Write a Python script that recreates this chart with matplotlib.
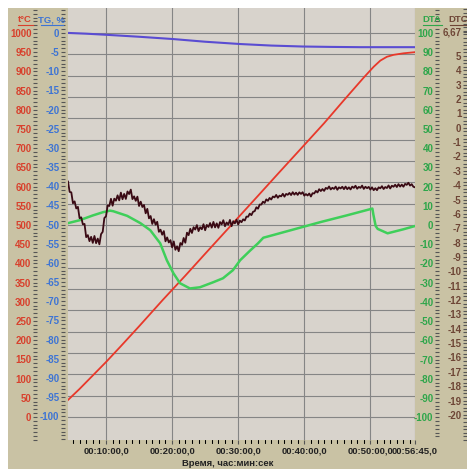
import numpy as np
import matplotlib.pyplot as plt
from matplotlib.ticker import MultipleLocator
from matplotlib.lines import Line2D
from matplotlib.patches import Rectangle

plt.rcParams['font.family'] = ['Liberation Sans', 'DejaVu Sans']

# temperature, deg C
t_min = [4.24, 6.0, 8.0, 10.0, 12.12, 15.0, 18.6, 22.0, 25.0, 29.24, 33.0, 36.0,
         39.4, 43.0, 46.0, 49.0, 50.5, 51.5, 52.5, 53.5, 55.0, 56.75]
t_val = [44, 73, 108, 143, 182, 236, 305, 368, 425, 505, 576, 633,
         697, 765, 825, 884, 912, 928, 938, 943, 947, 950]

# TG, %
tg_min = [4.25, 7.0, 10.15, 15.0, 20.15, 25.0, 30.3, 35.0, 39.8, 44.0, 48.5, 56.75]
tg_val = [0.0, -0.2, -0.5, -1.0, -1.6, -2.3, -2.9, -3.3, -3.55, -3.65, -3.72, -3.72]

# DTA
dta_min = [4.25, 6.0, 8.0, 9.55, 10.6, 11.1, 13.2, 15.2, 16.7, 18.2, 19.2, 20.2, 21.2,
           22.7, 24.2, 26.2, 27.7, 29.2, 30.3, 31.8, 33.0, 33.8, 35.3, 38.9, 42.4,
           46.5, 50.0, 50.3, 50.45, 50.8, 51.1, 52.6, 55.0, 56.75]
dta_val = [1.0, 2.5, 5.0, 6.7, 7.5, 7.2, 4.8, 1.0, -2.7, -9.5, -18.3, -25.1, -30.3,
           -33.0, -32.4, -29.8, -27.7, -23.5, -18.3, -13.3, -9.5, -6.6, -5.2, -1.8, 1.5,
           5.1, 8.3, 8.6, 5.5, -0.5, -2.0, -4.3, -2.2, -0.5]

# DTC, sampled every 0.25 min from 4.25 min
dtc_start, dtc_step = 4.25, 0.25
dtc_val = [
    -3.75, -4.47, -4.50, -5.26, -5.13, -5.62, -5.51, -6.30, -6.24, -6.73, -6.70, -7.62,
    -7.48, -7.90, -7.60, -8.02, -7.54, -8.04, -7.72, -8.12, -7.41, -7.25, -6.29, -6.17,
    -5.41, -5.45, -4.95, -5.43, -4.94, -5.08, -4.71, -5.06, -4.52, -4.98, -4.61, -4.96,
    -4.44, -4.62, -4.31, -4.97, -4.78, -5.09, -4.80, -5.45, -5.15, -5.52, -5.38, -5.96,
    -5.65, -6.31, -6.15, -6.70, -6.37, -6.75, -6.55, -7.25, -7.10, -7.45, -7.20, -7.91,
    -7.64, -7.99, -7.83, -8.33, -7.92, -8.50, -8.26, -8.60, -8.03, -8.16, -7.68, -8.01,
    -7.31, -7.48, -7.04, -7.33, -6.93, -7.09, -6.78, -7.20, -6.93, -7.07, -6.72, -7.14,
    -6.77, -6.91, -6.64, -6.96, -6.56, -6.94, -6.66, -6.97, -6.57, -6.73, -6.44, -6.86,
    -6.60, -6.75, -6.42, -6.86, -6.51, -6.66, -6.41, -6.74, -6.47, -6.58, -6.38, -6.46,
    -6.19, -6.20, -5.98, -6.09, -5.85, -5.81, -5.54, -5.64, -5.35, -5.35, -5.15, -5.24,
    -4.99, -5.09, -4.89, -5.00, -4.79, -4.85, -4.68, -4.88, -4.73, -4.78, -4.60, -4.80,
    -4.61, -4.67, -4.54, -4.69, -4.49, -4.66, -4.52, -4.68, -4.50, -4.61, -4.49, -4.73,
    -4.62, -4.72, -4.58, -4.79, -4.56, -4.58, -4.40, -4.51, -4.28, -4.41, -4.27, -4.40,
    -4.19, -4.26, -4.09, -4.30, -4.18, -4.26, -4.10, -4.32, -4.15, -4.23, -4.11, -4.28,
    -4.10, -4.28, -4.15, -4.30, -4.10, -4.19, -4.04, -4.25, -4.12, -4.19, -4.03, -4.26,
    -4.11, -4.21, -4.12, -4.31, -4.15, -4.35, -4.21, -4.35, -4.15, -4.22, -4.07, -4.27,
    -4.13, -4.20, -4.02, -4.23, -4.04, -4.11, -3.97, -4.13, -3.93, -4.10, -3.96, -4.11,
    -3.91, -3.98, -3.83, -4.03, -3.93, -4.11, -4.15]

x_ticks = [10, 20, 30, 40, 50, 56.75]
x_labels = ['00:10:00,0', '00:20:00,0', '00:30:00,0', '00:40:00,0', '00:50:00,0', '00:56:45,0']

t_ticks = list(range(0, 1001, 50))
tg_ticks = list(range(0, -101, -5))
dta_ticks = list(range(100, -101, -10))
dtc_ticks = [6.67] + list(range(5, -21, -1))
dtc_labels = ['6,67'] + [str(v) for v in range(5, -21, -1)]

PANEL = '#c9c2a4'
PLOT_BG = '#d8d3cc'
RED, BLUE, GREEN, BROWN = '#d8402c', '#3d74d4', '#2ea64a', '#6e4636'

W, H = 467, 469
fig = plt.figure(figsize=(W / 100, H / 100), dpi=100, facecolor='white')
fig.add_artist(Rectangle((8 / W, 0), 1, 1 - 8 / H, transform=fig.transFigure,
                         facecolor=PANEL, edgecolor='none', zorder=-10))
rect = [68 / W, 1 - 440 / H, 347 / W, 432 / H]

# background + grid + time axis
axg = fig.add_axes(rect, facecolor=PLOT_BG)
axg.set_xlim(4.25, 56.75)
axg.set_ylim(-60, 1065)
axg.set_yticks(np.linspace(0, 1000, 19))
axg.tick_params(axis='y', length=0, labelleft=False)
axg.set_xticks(x_ticks)
axg.set_xticklabels(x_labels, fontweight='bold')
axg.xaxis.set_minor_locator(MultipleLocator(1))
axg.tick_params(axis='x', which='major', direction='out', length=3, width=0.8,
                color='#555555', labelsize=6.8, labelcolor='#222222', pad=2)
axg.tick_params(axis='x', which='minor', direction='out', length=2, width=0.8, color='#555555')
axg.grid(True, color='#858585', linewidth=0.8)
axg.set_axisbelow(True)
for s in axg.spines.values():
    s.set_visible(False)


def y_axis(pos, lim, ticks, labels, minor, color):
    ax = fig.add_axes(rect, sharex=axg, facecolor='none')
    ax.set_ylim(*lim)
    ax.yaxis.set_ticks_position('left')
    ax.spines['left'].set_position(('axes', pos))
    for s in ax.spines.values():
        s.set_visible(False)
    ax.set_yticks(ticks)
    ax.set_yticklabels(labels, fontweight='bold')
    ax.yaxis.set_minor_locator(MultipleLocator(minor))
    ax.tick_params(axis='y', which='major', direction='inout', length=3.5, width=0.8,
                   color='#555555', labelcolor=color, labelsize=7.0, pad=0.8)
    ax.tick_params(axis='y', which='minor', direction='inout', length=2.2, width=0.8,
                   color='#555555')
    ax.tick_params(axis='x', bottom=False, labelbottom=False)
    return ax


ax_t = y_axis((35 - 68) / 347, (-60, 1065), t_ticks, [str(v) for v in t_ticks], 10, RED)
ax_tg = y_axis((63 - 68) / 347, (-106.2, 6.5), tg_ticks, [str(v) for v in tg_ticks], 1, BLUE)
ax_dta = y_axis((437 - 68) / 347, (-111.9, 113.0), dta_ticks, [str(v) for v in dta_ticks], 2, GREEN)
ax_dtc = y_axis((465 - 68) / 347, (-21.75, 8.34), dtc_ticks, dtc_labels, 0.25, BROWN)

dtc_min = dtc_start + dtc_step * np.arange(len(dtc_val))
ax_dtc.plot(dtc_min, dtc_val, color='#3a0a14', linewidth=1.3)
ax_dta.plot(dta_min, dta_val, color='#3fcf5a', linewidth=1.8)
ax_tg.plot(tg_min, tg_val, color='#5a4cd2', linewidth=1.5)
ax_t.plot(t_min, t_val, color='#e8382a', linewidth=1.3)

# axis titles (underlined): text, centre x, underline from, underline to (pixels)
titles = [('t°C', 25, 18, 33, RED), ('TG, %', 52, 41, 63, BLUE),
          ('DTA', 432, 423, 442, GREEN), ('DTC', 458, 450, 467, BROWN)]
for txt, xc, u0, u1, col in titles:
    fig.text(xc / W, 1 - 22.5 / H, txt, ha='center', va='baseline', color=col,
             fontsize=6.8, fontweight='bold')
    fig.add_artist(Line2D([u0 / W, u1 / W], [1 - 25 / H, 1 - 25 / H],
                          color=col, linewidth=0.8, transform=fig.transFigure))

fig.text(228 / W, 1 - 463 / H, 'Время, час:мин:сек', ha='center', va='center',
         fontsize=6.8, fontweight='bold', color='#222222')

fig.savefig('out.png', dpi=100)
